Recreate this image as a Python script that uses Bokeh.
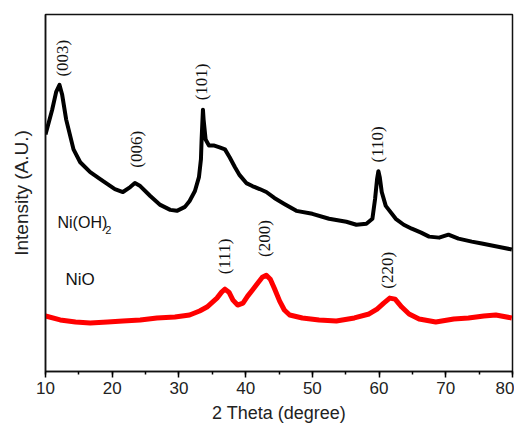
from bokeh.plotting import figure
from bokeh.models import SingleIntervalTicker, FixedTicker, Label, Range1d
from bokeh.embed import file_html
from bokeh.resources import INLINE
import math

# Ni(OH)2 pattern (2theta in degree, intensity in arbitrary units)
nioh_theta = [10.0, 11.0, 11.6, 12.1, 12.5, 13.1, 14.2, 15.2, 16.7, 18.2, 19.3, 20.4,
              21.6, 22.7, 23.4, 24.2, 25.7, 27.2, 28.7, 29.7, 30.9, 31.6, 32.4, 33.0,
              33.3, 33.4, 33.6, 33.7, 34.0, 34.5, 35.2, 36.1, 36.9, 37.6, 38.4, 39.1,
              40.1, 41.0, 42.1, 43.1, 44.3, 45.8, 47.6, 50.0, 52.5, 55.1, 56.6, 58.1,
              59.0, 59.4, 59.7, 59.9, 60.1, 60.4, 61.0, 62.5, 63.7, 64.9, 66.3, 67.5,
              69.0, 70.4, 71.9, 73.9, 75.4, 76.9, 78.4, 79.9]
nioh_int = [239, 264, 282, 289, 279, 254, 224, 211, 201, 194, 189, 184,
            181, 186, 190, 187, 177, 168, 163, 162, 166, 172, 182, 196,
            214, 234, 264, 254, 234, 228, 228, 226, 224, 216, 206, 198,
            190, 187, 184, 181, 175, 169, 162, 159, 154, 151, 148, 149,
            154, 174, 194, 202, 196, 181, 167, 154, 148, 144, 140, 136,
            135, 138, 134, 131, 129, 127, 125, 123]

# NiO pattern
nio_theta = [10.0, 12.2, 14.5, 16.7, 19.3, 21.6, 24.2, 26.7, 29.4, 31.6, 33.1, 34.2,
             35.7, 36.4, 36.9, 37.5, 38.1, 38.8, 39.6, 40.3, 41.0, 41.8, 42.5, 43.1,
             43.7, 44.3, 45.1, 45.8, 46.6, 48.5, 51.0, 53.6, 56.3, 58.5, 59.7, 60.7,
             61.6, 62.4, 63.4, 64.5, 66.0, 68.5, 71.2, 73.4, 75.7, 77.5, 79.9]
nio_int = [56, 52, 50, 49, 50, 51, 52, 54, 55, 57, 61, 65,
           74, 80, 83, 80, 72, 67, 69, 76, 82, 89, 95, 97,
           93, 84, 71, 62, 57, 54, 52, 51, 54, 58, 63, 69,
           74, 73, 65, 58, 53, 50, 53, 54, 56, 57, 54]

# Peak annotations (hkl, 2theta, label height)
nioh_peaks = ["(003)", "(006)", "(101)", "(110)"]
nioh_peak_x = [12.5, 23.7, 33.4, 59.7]
nioh_peak_y = [316, 224, 292, 229]
nio_peaks = ["(111)", "(200)", "(220)"]
nio_peak_x = [36.9, 42.8, 61.2]
nio_peak_y = [116, 134, 102]

x_ticks_interval = 10

p = figure(width=514, height=425, output_backend="svg", toolbar_location=None,
           x_range=Range1d(10, 80), y_range=Range1d(0, 360),
           min_border_left=45, min_border_right=2, min_border_top=14, min_border_bottom=51)
p.background_fill_color = "white"
p.border_fill_color = "white"
p.outline_line_color = "#111111"
p.outline_line_width = 1.5
p.xgrid.visible = False
p.ygrid.visible = False

p.line(nioh_theta, nioh_int, line_color="black", line_width=4, line_join="round")
p.line(nio_theta, nio_int, line_color="#ff0000", line_width=5, line_join="round")

for t, x, y in zip(nioh_peaks + nio_peaks, nioh_peak_x + nio_peak_x, nioh_peak_y + nio_peak_y):
    p.add_layout(Label(x=x, y=y, text=t, angle=math.pi / 2, text_align="center",
                       text_baseline="middle", text_font="Liberation Serif",
                       text_font_size="17px", text_color="#111111"))

p.add_layout(Label(x=11.8, y=150, text="Ni(OH)", text_font="Liberation Sans",
                   text_font_size="16px", text_baseline="middle", text_color="#111111"))
p.add_layout(Label(x=18.95, y=143, text="2", text_font="Liberation Sans",
                   text_font_size="11px", text_baseline="middle", text_color="#111111"))
p.add_layout(Label(x=13.0, y=93, text="NiO", text_font="Liberation Sans",
                   text_font_size="17px", text_baseline="middle", text_color="#111111"))

xa = p.xaxis[0]
xa.ticker = SingleIntervalTicker(interval=x_ticks_interval, num_minor_ticks=2)
xa.axis_label = "2 Theta (degree)"
xa.axis_label_text_font = "Liberation Sans"
xa.axis_label_text_font_style = "normal"
xa.axis_label_text_font_size = "18px"
xa.axis_label_text_color = "#222222"
xa.axis_label_standoff = 6
xa.major_label_text_font = "Liberation Sans"
xa.major_label_text_font_size = "17px"
xa.major_label_text_color = "#222222"
xa.major_label_standoff = 4
xa.major_tick_out = 6
xa.major_tick_in = 0
xa.minor_tick_out = 3
xa.minor_tick_in = 0
xa.axis_line_width = 1.5
xa.axis_line_color = "#111111"
xa.major_tick_line_width = 1.5
xa.minor_tick_line_width = 1.5

ya = p.yaxis[0]
ya.ticker = FixedTicker(ticks=[])
ya.minor_tick_line_color = None
ya.major_tick_line_color = None
ya.major_label_text_font_size = "0px"
ya.axis_label = "Intensity (A.U.)"
ya.axis_label_text_font = "Liberation Sans"
ya.axis_label_text_font_style = "normal"
ya.axis_label_text_font_size = "19px"
ya.axis_label_text_color = "#222222"
ya.axis_label_standoff = 14
ya.axis_line_width = 1.5
ya.axis_line_color = "#111111"

open("out.html", "w").write(file_html(p, INLINE))
